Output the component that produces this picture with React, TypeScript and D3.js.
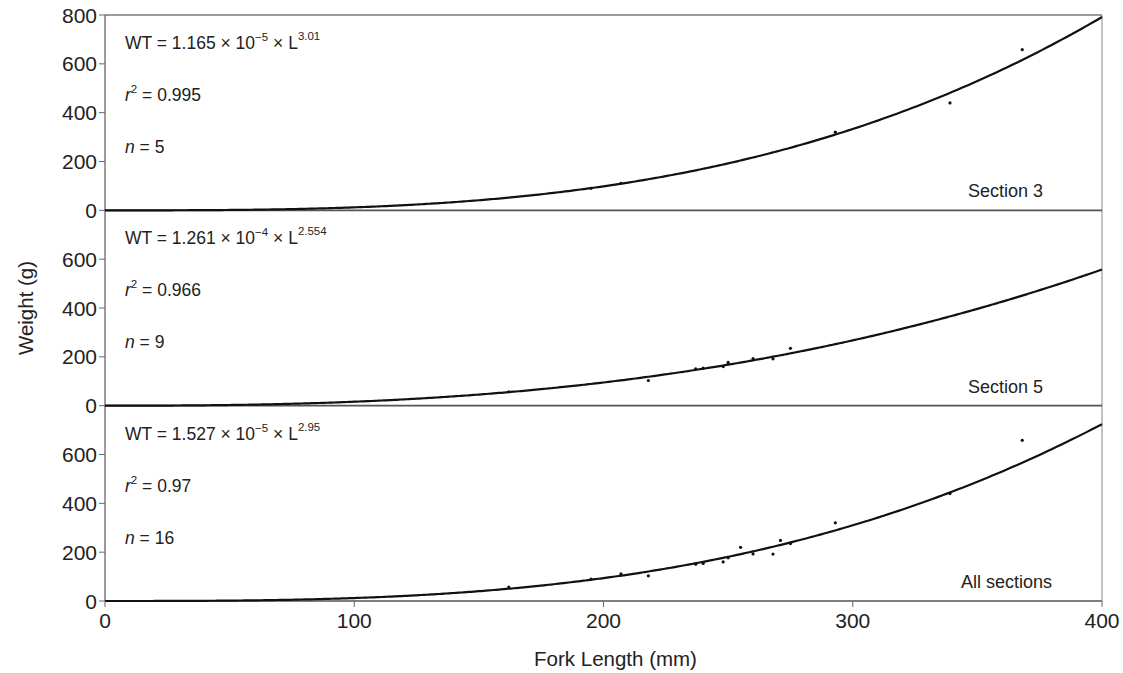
import React from "react";
import * as d3 from "d3";

// ---- data ----
const panelNames = ["Section 3", "Section 5", "All sections"];
const coefA = [1.165e-5, 1.261e-4, 1.527e-5];
const coefB = [3.01, 2.554, 2.95];
const coefAText = ["1.165", "1.261", "1.527"];
const coefExpText = ["\u22125", "\u22124", "\u22125"];
const coefBText = ["3.01", "2.554", "2.95"];
const r2Text = ["0.995", "0.966", "0.97"];
const nText = ["5", "9", "16"];

const section3Length = [195, 207, 293, 339, 368];
const section3Weight = [90, 111, 320, 440, 658];
const section5Length = [162, 218, 237, 240, 248, 250, 260, 268, 275];
const section5Weight = [57, 103, 151, 154, 160, 177, 193, 192, 235];
const otherLength = [255, 271];
const otherWeight = [220, 248];

const xTicks = [0, 100, 200, 300, 400];
const yTicksTop = [0, 200, 400, 600, 800];
const yTicksOther = [0, 200, 400, 600];

type Pt = { L: number; W: number };
const zip = (a: number[], b: number[]): Pt[] => a.map((v, i) => ({ L: v, W: b[i] }));
const pts3 = zip(section3Length, section3Weight);
const pts5 = zip(section5Length, section5Weight);
const ptsAll = [...pts3, ...pts5, ...zip(otherLength, otherWeight)];
const panelPoints = [pts3, pts5, ptsAll];

const W = 1123;
const H = 673;
const left = 105;
const right = 1102;
const top = 15;
const bottom = 601;
const panelH = (bottom - top) / 3;

const FONT = "Arial, 'Liberation Sans', Helvetica, sans-serif";

export default function App() {
  const x = d3.scaleLinear().domain([0, 400]).range([left, right]);
  const curveX = d3.range(0, 401, 2);

  return (
    <svg
      width={W}
      height={H}
      style={{ position: "absolute", left: 0, top: 0, background: "#fff" }}
      fontFamily={FONT}
    >
      {/* outer frame */}
      <line x1={left} x2={right} y1={top} y2={top} stroke="#7a7a7a" strokeWidth={1.5} />
      <line x1={right} x2={right} y1={top} y2={bottom} stroke="#9a9a9a" strokeWidth={1.2} />
      <line x1={left} x2={left} y1={top} y2={bottom} stroke="#666" strokeWidth={1.3} />

      {panelNames.map((name, p) => {
        const y0 = top + panelH * p;
        const y = d3.scaleLinear().domain([0, 800]).range([y0 + panelH, y0]);
        const line = d3
          .line<number>()
          .x((L) => x(L))
          .y((L) => y(coefA[p] * Math.pow(L, coefB[p])))
          .curve(d3.curveMonotoneX);
        const ticks = p === 0 ? yTicksTop : yTicksOther;
        const tx = 125;
        const base = y0 + 34;
        return (
          <g key={name}>
            {/* baseline of panel */}
            <line x1={left} x2={right} y1={y(0)} y2={y(0)} stroke="#555" strokeWidth={1.6} />
            {/* y ticks */}
            {ticks.map((t) => (
              <g key={t}>
                <line x1={left - 6} x2={left} y1={y(t)} y2={y(t)} stroke="#666" strokeWidth={1} />
                <text
                  x={left - 8}
                  y={y(t)}
                  dy="0.36em"
                  textAnchor="end"
                  fontSize={21}
                  fill="#222"
                >
                  {t}
                </text>
              </g>
            ))}
            {/* fitted curve */}
            <path d={line(curveX) || ""} fill="none" stroke="#111" strokeWidth={2.2} />
            {/* points */}
            {panelPoints[p].map((d, i) => (
              <circle key={i} cx={x(d.L)} cy={y(d.W)} r={1.6} fill="#111" />
            ))}
            {/* annotations */}
            <text x={tx} y={base} fontSize={17.5} fill="#222">
              <tspan>WT = {coefAText[p]} × 10</tspan>
              <tspan fontSize={11.5} dy={-8}>{coefExpText[p]}</tspan>
              <tspan dy={8}> × L</tspan>
              <tspan fontSize={11.5} dy={-9}>{coefBText[p]}</tspan>
            </text>
            <text x={tx} y={base + 52} fontSize={17.5} fill="#222">
              <tspan fontStyle="italic">r</tspan>
              <tspan fontSize={11.5} dy={-8}>2</tspan>
              <tspan dy={8}> = {r2Text[p]}</tspan>
            </text>
            <text x={tx} y={base + 104} fontSize={17.5} fill="#222">
              <tspan fontStyle="italic">n</tspan>
              <tspan> = {nText[p]}</tspan>
            </text>
            <text
              x={p === 2 ? 1052 : 1043}
              y={y0 + panelH - 13}
              textAnchor="end"
              fontSize={18}
              fill="#222"
            >
              {name}
            </text>
          </g>
        );
      })}

      {/* x ticks */}
      {xTicks.map((t) => (
        <g key={t}>
          <line x1={x(t)} x2={x(t)} y1={bottom} y2={bottom + 6} stroke="#666" strokeWidth={1} />
          <text x={x(t)} y={bottom + 27} textAnchor="middle" fontSize={21} fill="#222">
            {t}
          </text>
        </g>
      ))}

      {/* axis titles */}
      <text x={(left + right) / 2 + 12} y={666} textAnchor="middle" fontSize={20.5} fill="#222">
        Fork Length (mm)
      </text>
      <text
        transform={`translate(33, ${(top + bottom) / 2}) rotate(-90)`}
        textAnchor="middle"
        fontSize={20.5}
        fill="#222"
      >
        Weight (g)
      </text>
    </svg>
  );
}
